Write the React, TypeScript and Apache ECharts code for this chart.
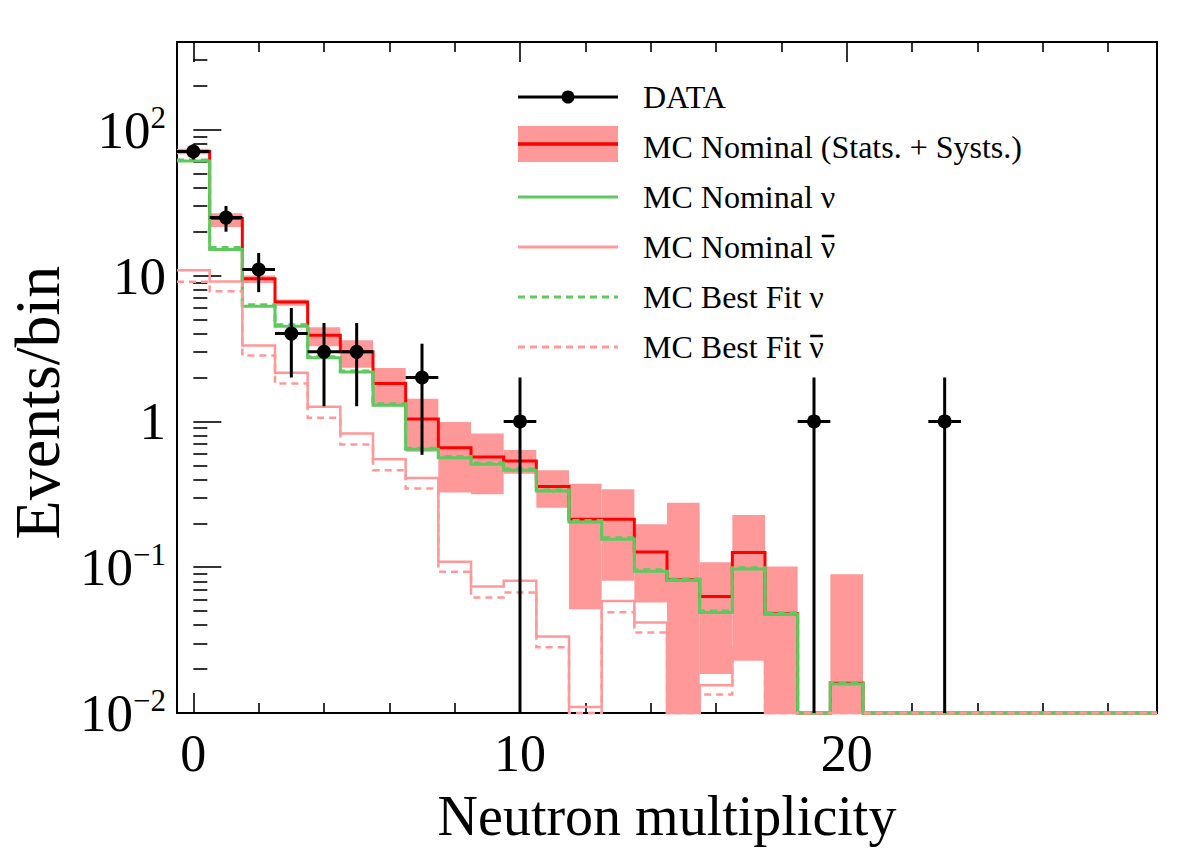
import React, { useEffect, useRef } from "react";
import * as echarts from "echarts";

const FONT = '"Liberation Serif", "DejaVu Serif", serif';

const X_MIN = -0.5;
const X_MAX = 29.5;
const Y_MIN = 0.01;
const Y_MAX = 400;

// Neutron multiplicity bins (unit width, centred on integers)
const binCenters = [
  0, 1, 2, 3, 4, 5, 6, 7, 8, 9, 10, 11, 12, 13, 14, 15, 16, 17, 18, 19, 20, 21, 22, 23, 24, 25, 26, 27, 28, 29,
];

// MC nominal total and its stats + systs envelope
const mcNominal = [
  71, 24.6, 9.5, 6.6, 3.9, 3.0, 1.82, 1.04, 0.66, 0.57, 0.535, 0.357, 0.213, 0.213, 0.127, 0.082, 0.063, 0.126,
  0.048, 0, 0.016, 0, 0, 0, 0, 0, 0, 0, 0, 0,
];
const mcBandLow = [
  68, 21.5, 8.9, 6.2, 3.28, 2.33, 1.27, 0.62, 0.325, 0.316, 0.438, 0.256, 0.0515, 0.0806, 0.0573, 0, 0.0185,
  0.0228, 0, 0, 0, 0, 0, 0, 0, 0, 0, 0, 0, 0,
];
const mcBandHigh = [
  74, 26.8, 10.0, 6.85, 4.43, 3.6, 2.32, 1.43, 0.99, 0.827, 0.636, 0.463, 0.374, 0.342, 0.197, 0.277, 0.108,
  0.228, 0.101, 0, 0.0896, 0, 0, 0, 0, 0, 0, 0, 0, 0,
];

// Neutrino / antineutrino components
const nuNominal = [
  61, 15.1, 6.16, 4.5, 2.73, 2.18, 1.29, 0.643, 0.564, 0.508, 0.463, 0.333, 0.204, 0.1555, 0.0939, 0.0815,
  0.0489, 0.097, 0.0476, 0, 0.0158, 0, 0, 0, 0, 0, 0, 0, 0, 0,
];
const nuBestFit = [
  62, 15.6, 6.3, 4.6, 2.78, 2.22, 1.32, 0.655, 0.575, 0.518, 0.472, 0.34, 0.209, 0.159, 0.096, 0.083, 0.05,
  0.099, 0.0487, 0, 0.0162, 0, 0, 0, 0, 0, 0, 0, 0, 0,
];
const nuBarNominal = [
  10.9, 9.1, 3.32, 2.16, 1.26, 0.827, 0.55, 0.409, 0.109, 0.0738, 0.0806, 0.0335, 0.011, 0.0587, 0.0418, 0,
  0.0155, 0.028, 0, 0, 0, 0, 0, 0, 0, 0, 0, 0, 0, 0,
];
const nuBarBestFit = [
  9.06, 7.8, 2.83, 1.82, 1.06, 0.695, 0.463, 0.346, 0.093, 0.062, 0.067, 0.0282, 0.0095, 0.049, 0.0357, 0,
  0.0134, 0.024, 0, 0, 0, 0, 0, 0, 0, 0, 0, 0, 0, 0,
];

// Observed events (non-empty bins only) with their errors
const dataX = [0, 1, 2, 3, 4, 5, 7, 10, 19, 23];
const dataY = [71, 25, 11, 4, 3, 3, 2, 1, 1, 1];
const dataErr = [8.4, 5, 3.3, 2, 1.73, 1.73, 1.41, 1, 1, 1];

// Axis ticks and labels
const xLabelValues = [0, 10, 20];
const xMinorTicks = [2, 4, 6, 8, 12, 14, 16, 18, 22, 24, 26, 28];
const yMajorValues = [0.01, 0.1, 1, 10, 100];
const yMinorTicks = [
  0.02, 0.03, 0.04, 0.05, 0.06, 0.07, 0.08, 0.09, 0.2, 0.3, 0.4, 0.5, 0.6, 0.7, 0.8, 0.9, 2, 3, 4, 5, 6, 7, 8, 9,
  20, 30, 40, 50, 60, 70, 80, 90, 200, 300,
];

// Legend entries; antineutrino entries get an overbar on the final ν
const legendLabels = [
  "DATA",
  "MC Nominal (Stats. + Systs.)",
  "MC Nominal \u03bd",
  "MC Nominal \u03bd",
  "MC Best Fit \u03bd",
  "MC Best Fit \u03bd",
];
const legendOverbar = [false, false, false, true, false, true];

const RED = "#ff0000";
const GREEN = "#5fc85f";
const PINK = "#ff9999";
const LEGEND_FONT_SIZE = 32;

// Histogram outline: each bin becomes a flat segment across its width;
// empty bins sit on the bottom of the frame.
function stepData(values: number[]) {
  const pts: number[][] = [];
  values.forEach((v, k) => {
    const y = Math.max(v, Y_MIN);
    pts.push([binCenters[k] - 0.5, y], [binCenters[k] + 0.5, y]);
  });
  return pts;
}

function stepSeries(values: number[], color: string, width: number, dashed: boolean) {
  return {
    type: "line",
    data: stepData(values),
    showSymbol: false,
    symbol: "none",
    clip: false,
    silent: true,
    lineStyle: { color, width, type: dashed ? [7, 5] : "solid", cap: "butt", join: "miter" },
  };
}

function yLabel(v: number) {
  const e = Math.round(Math.log10(v));
  if (e === 0) return "{b|1}";
  if (e === 1) return "{b|10}";
  return `{b|10}{s|${e < 0 ? "\u2212" : ""}${Math.abs(e)}}`;
}

function measure(text: string, size: number) {
  const ctx = document.createElement("canvas").getContext("2d");
  if (!ctx) return text.length * size * 0.45;
  ctx.font = `${size}px ${FONT}`;
  return ctx.measureText(text).width;
}

function buildOption() {
  const bandData = binCenters
    .map((x, k) => [x, Math.max(mcBandLow[k], Y_MIN), mcBandHigh[k]])
    .filter((d) => d[2] > 0);
  const pointData = dataX.map((x, i) => [x, dataY[i], dataErr[i]]);

  const tickStyle = { color: "#000", width: 1.6 };
  const xAxisBase = {
    type: "value",
    min: X_MIN,
    max: X_MAX,
    axisLine: { show: false },
    splitLine: { show: false },
  };
  const yAxisBase = {
    type: "log",
    logBase: 10,
    min: Y_MIN,
    max: Y_MAX,
    position: "left",
    axisLine: { show: false },
    splitLine: { show: false },
  };

  const legendGraphics: any[] = [];
  const lx0 = 518;
  const lx1 = 618;
  const tx = 643;
  const rowY = (i: number) => 97 + 50 * i;
  legendGraphics.push(
    { type: "line", shape: { x1: lx0, y1: rowY(0), x2: lx1, y2: rowY(0) }, style: { stroke: "#000", lineWidth: 3 } },
    { type: "circle", shape: { cx: (lx0 + lx1) / 2, cy: rowY(0), r: 6.5 }, style: { fill: "#000" } },
    { type: "rect", shape: { x: lx0, y: 126, width: lx1 - lx0, height: 36 }, style: { fill: PINK } },
    { type: "line", shape: { x1: lx0, y1: 144, x2: lx1, y2: 144 }, style: { stroke: RED, lineWidth: 3.5 } },
    { type: "line", shape: { x1: lx0, y1: rowY(2), x2: lx1, y2: rowY(2) }, style: { stroke: GREEN, lineWidth: 3 } },
    { type: "line", shape: { x1: lx0, y1: rowY(3), x2: lx1, y2: rowY(3) }, style: { stroke: PINK, lineWidth: 3 } },
    {
      type: "line",
      shape: { x1: lx0, y1: rowY(4), x2: lx1, y2: rowY(4) },
      style: { stroke: GREEN, lineWidth: 3, lineDash: [7, 5] },
    },
    {
      type: "line",
      shape: { x1: lx0, y1: rowY(5), x2: lx1, y2: rowY(5) },
      style: { stroke: PINK, lineWidth: 3, lineDash: [7, 5] },
    }
  );
  legendLabels.forEach((label, i) => {
    legendGraphics.push({
      type: "text",
      x: tx,
      y: rowY(i),
      style: {
        text: label,
        fill: "#000",
        fontSize: LEGEND_FONT_SIZE,
        fontFamily: FONT,
        verticalAlign: "middle",
        align: "left",
      },
    });
    if (legendOverbar[i]) {
      const full = measure(label, LEGEND_FONT_SIZE);
      const head = measure(label.slice(0, -1), LEGEND_FONT_SIZE);
      legendGraphics.push({
        type: "line",
        shape: { x1: tx + head + 1, y1: rowY(i) - 11, x2: tx + full - 1, y2: rowY(i) - 11 },
        style: { stroke: "#000", lineWidth: 2.5 },
      });
    }
  });

  return {
    animation: false,
    backgroundColor: "#ffffff",
    textStyle: { fontFamily: FONT },
    grid: {
      left: 177,
      right: 25,
      top: 42,
      bottom: 137,
      outerBoundsMode: "none",
      containLabel: false,
      show: true,
      borderColor: "#000",
      borderWidth: 2,
      backgroundColor: "transparent",
    },
    xAxis: [
      {
        ...xAxisBase,
        position: "bottom",
        axisTick: { show: true, inside: true, length: 10, customValues: xMinorTicks, lineStyle: tickStyle },
        axisLabel: { customValues: xLabelValues, fontSize: 52, color: "#000", margin: 14, fontFamily: FONT },
        name: "Neutron multiplicity",
        nameLocation: "middle",
        nameGap: 77,
        nameTextStyle: { fontSize: 56, color: "#000", fontFamily: FONT, lineHeight: 52 },
      },
      {
        ...xAxisBase,
        position: "bottom",
        axisTick: { show: true, inside: true, length: 20, customValues: xLabelValues, lineStyle: tickStyle },
        axisLabel: { show: false },
      },
      {
        ...xAxisBase,
        position: "top",
        axisTick: { show: true, inside: true, length: 10, customValues: xMinorTicks, lineStyle: tickStyle },
        axisLabel: { show: false },
      },
      {
        ...xAxisBase,
        position: "top",
        axisTick: { show: true, inside: true, length: 20, customValues: xLabelValues, lineStyle: tickStyle },
        axisLabel: { show: false },
      },
    ],
    yAxis: [
      {
        ...yAxisBase,
        axisTick: { show: true, inside: true, length: 14, customValues: yMinorTicks, lineStyle: tickStyle },
        axisLabel: {
          customValues: yMajorValues,
          formatter: (v: number) => yLabel(v),
          margin: 11,
          color: "#000",
          rich: {
            b: { fontSize: 53, fontFamily: FONT, color: "#000", lineHeight: 56 },
            s: { fontSize: 31, fontFamily: FONT, color: "#000", verticalAlign: "top", lineHeight: 34 },
          },
        },
        name: "Events/bin",
        nameLocation: "middle",
        nameRotate: 90,
        nameGap: 98,
        nameTextStyle: { fontSize: 64, color: "#000", fontFamily: FONT, padding: [0, 50, 0, 0] },
      },
      {
        ...yAxisBase,
        axisTick: { show: true, inside: true, length: 28, customValues: yMajorValues, lineStyle: tickStyle },
        axisLabel: { show: false },
      },
    ],
    series: [
      {
        type: "custom",
        name: "MC Nominal band",
        data: bandData,
        encode: { x: 0, y: [1, 2] },
        silent: true,
        renderItem: (_p: any, api: any) => {
          const x = api.value(0);
          const p1 = api.coord([x - 0.5, api.value(2)]);
          const p2 = api.coord([x + 0.5, api.value(1)]);
          return {
            type: "rect",
            shape: { x: p1[0], y: p1[1], width: p2[0] - p1[0], height: p2[1] - p1[1] },
            style: { fill: PINK },
          };
        },
      },
      { name: "MC Nominal", ...stepSeries(mcNominal, RED, 3, false) },
      { name: "MC Nominal nu", ...stepSeries(nuNominal, GREEN, 3, false) },
      { name: "MC Nominal nubar", ...stepSeries(nuBarNominal, PINK, 2.5, false) },
      { name: "MC Best Fit nu", ...stepSeries(nuBestFit, GREEN, 3, true) },
      { name: "MC Best Fit nubar", ...stepSeries(nuBarBestFit, PINK, 2.5, true) },
      {
        type: "custom",
        name: "DATA",
        data: pointData,
        encode: { x: 0, y: 1 },
        silent: true,
        z: 5,
        renderItem: (_p: any, api: any) => {
          const x = api.value(0);
          const y = api.value(1);
          const err = api.value(2);
          const c = api.coord([x, y]);
          const lo = api.coord([x, Math.max(y - err, Y_MIN)]);
          const hi = api.coord([x, y + err]);
          const l = api.coord([x - 0.5, y]);
          const r = api.coord([x + 0.5, y]);
          const stroke = { stroke: "#000", lineWidth: 3 };
          return {
            type: "group",
            children: [
              { type: "line", shape: { x1: lo[0], y1: lo[1], x2: hi[0], y2: hi[1] }, style: stroke },
              { type: "line", shape: { x1: l[0], y1: l[1], x2: r[0], y2: r[1] }, style: stroke },
              { type: "circle", shape: { cx: c[0], cy: c[1], r: 7 }, style: { fill: "#000" } },
            ],
          };
        },
      },
    ],
    graphic: legendGraphics,
  };
}

export default function App() {
  const ref = useRef<HTMLDivElement>(null);
  useEffect(() => {
    if (!ref.current) return;
    const chart = echarts.init(ref.current, undefined, { renderer: "svg" });
    chart.setOption(buildOption() as any);
    return () => chart.dispose();
  }, []);
  return (
    <div
      ref={ref}
      style={{ position: "absolute", left: 0, top: 0, width: 1182, height: 850, background: "#fff" }}
    />
  );
}
